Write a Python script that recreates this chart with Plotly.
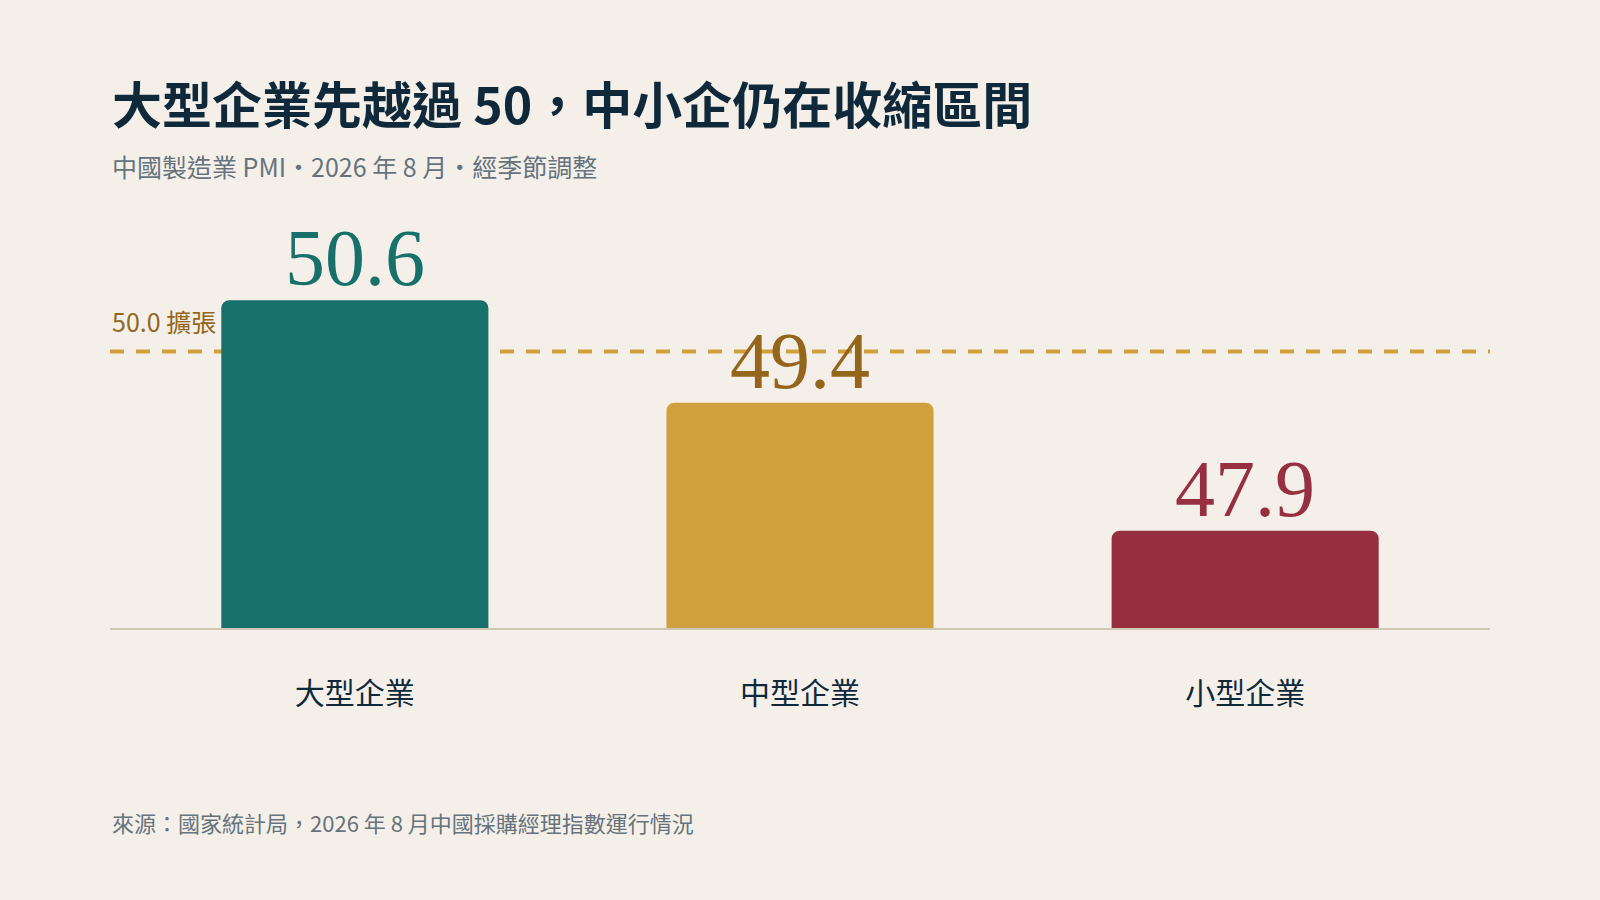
import plotly.graph_objects as go

# data
categories = ["大型企業", "中型企業", "小型企業"]
pmi_values = [50.6, 49.4, 47.9]
value_labels = ["50.6", "49.4", "47.9"]
threshold = 50.0
threshold_label = "50.0 擴張"

title_text = "<b>大型企業先越過 50，中小企仍在收縮區間</b>"
subtitle_text = "中國製造業 PMI・2026 年 8 月・經季節調整"
source_text = "來源：國家統計局，2026 年 8 月中國採購經理指數運行情況"

bar_colors = ["#17706A", "#D0A03E", "#963040"]
label_colors = ["#17706A", "#93661B", "#963040"]

BG = "#F4F0E9"
INK = "#10293A"
GREY = "#66737D"
SANS = "Noto Sans CJK TC, Noto Sans, sans-serif"
SERIF = "Liberation Serif, DejaVu Serif, serif"

W, H = 1600, 900
M_T, M_B = 266, 271


def paper_y(px):
    # convert a pixel row to paper coords of the plot area
    return (H - M_B - px) / (H - M_B - M_T)


fig = go.Figure(
    go.Bar(
        x=categories,
        y=pmi_values,
        width=0.6,
        marker=dict(color=bar_colors, line=dict(width=0), cornerradius=8),
        hoverinfo="skip",
    )
)

# value labels above each bar
for cat, val, txt, col in zip(categories, pmi_values, value_labels, label_colors):
    fig.add_annotation(
        x=cat, y=val, text=txt, showarrow=False,
        xanchor="center", yanchor="bottom", yshift=-4,
        font=dict(family=SERIF, size=80, color=col),
    )

# 50 threshold
fig.add_shape(
    type="line", xref="paper", x0=0, x1=1, y0=threshold, y1=threshold,
    line=dict(color="#D0A03E", width=4, dash="14px,12px"), layer="below",
)
fig.add_annotation(
    xref="paper", x=0, y=threshold, text=threshold_label, showarrow=False,
    xanchor="left", yanchor="bottom", yshift=10,
    font=dict(family=SANS, size=25, color="#93661B"),
)

# titles and source
fig.add_annotation(
    xref="paper", yref="paper", x=0, y=paper_y(102), text=title_text,
    showarrow=False, xanchor="left", yanchor="middle",
    font=dict(family=SANS, size=50, color=INK),
)
fig.add_annotation(
    xref="paper", yref="paper", x=0, y=paper_y(166), text=subtitle_text,
    showarrow=False, xanchor="left", yanchor="middle",
    font=dict(family=SANS, size=25, color=GREY),
)
fig.add_annotation(
    xref="paper", yref="paper", x=0, y=paper_y(822), text=source_text,
    showarrow=False, xanchor="left", yanchor="middle",
    font=dict(family=SANS, size=22, color=GREY),
)

fig.update_layout(
    width=W, height=H,
    margin=dict(l=110, r=110, t=M_T, b=M_B),
    paper_bgcolor=BG, plot_bgcolor=BG,
    showlegend=False,
    xaxis=dict(
        range=[-0.55, 2.55], showgrid=False, zeroline=False,
        showline=False, ticks="", ticklabelstandoff=44,
        tickfont=dict(family=SANS, size=30, color=INK),
    ),
    yaxis=dict(
        range=[46.75, 51.0], showgrid=False, zeroline=False,
        showticklabels=False, showline=False, ticks="",
    ),
)

# baseline rule
fig.add_shape(
    type="line", xref="paper", yref="paper", x0=0, x1=1, y0=0, y1=0,
    line=dict(color="#D1C9B8", width=2), layer="above",
)

fig.write_html(
    "out.html",
    config={"displayModeBar": False},
    post_script="document.body.style.margin='0';document.body.style.background='%s';" % BG,
)
